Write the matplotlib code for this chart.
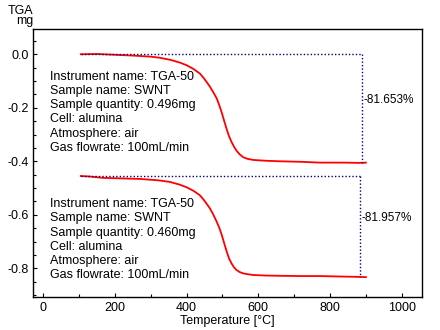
import numpy as np
import matplotlib
matplotlib.use("Agg")
import matplotlib.pyplot as plt
from matplotlib.ticker import MultipleLocator

plt.rcParams['font.family'] = ['Liberation Sans', 'DejaVu Sans']

# TGA run 1 (sample 0.496 mg)
temp1 = [105, 150, 200, 251, 300, 325, 355, 381, 400, 418, 437, 446, 455, 465, 474, 484, 491,
         498, 505, 512, 518, 525, 532, 539, 548, 558, 570, 586, 620, 660, 720, 772, 840, 880, 900]
mass1 = [0.0, 0.001, -0.002, -0.005, -0.009, -0.013, -0.021, -0.031, -0.041, -0.054, -0.072,
         -0.086, -0.102, -0.121, -0.141, -0.165, -0.19, -0.218, -0.25, -0.281, -0.305, -0.327,
         -0.345, -0.360, -0.374, -0.385, -0.391, -0.395, -0.398, -0.400, -0.402, -0.405, -0.405,
         -0.406, -0.405]

# TGA run 2 (sample 0.460 mg)
temp2 = [105, 130, 167, 220, 270, 320, 353, 380, 400, 420, 437, 446, 455, 465, 474, 484, 491,
         498, 505, 512, 518, 525, 532, 539, 548, 558, 570, 586, 620, 660, 720, 772, 840, 880, 900]
mass2 = [-0.455, -0.457, -0.462, -0.464, -0.466, -0.471, -0.477, -0.487, -0.497, -0.511, -0.527,
         -0.541, -0.557, -0.576, -0.598, -0.626, -0.648, -0.675, -0.707, -0.738, -0.762, -0.781,
         -0.796, -0.806, -0.814, -0.819, -0.822, -0.825, -0.827, -0.828, -0.829, -0.829, -0.831,
         -0.832, -0.833]

# step analysis: start level, end level, marker temperature
step_temp = [888, 884]
step_start = [0.0, -0.455]
step_end = [-0.405, -0.832]
step_pct = ["-81.653%", "-81.957%"]

info1 = ["Instrument name: TGA-50", "Sample name: SWNT", "Sample quantity: 0.496mg",
         "Cell: alumina", "Atmosphere: air", "Gas flowrate: 100mL/min"]
info2 = ["Instrument name: TGA-50", "Sample name: SWNT", "Sample quantity: 0.460mg",
         "Cell: alumina", "Atmosphere: air", "Gas flowrate: 100mL/min"]

fig = plt.figure(figsize=(4.4, 3.3), dpi=100)
ax = fig.add_axes([0.076, 0.101, 0.882, 0.810])

for t, m in [(temp1, mass1), (temp2, mass2)]:
    ax.plot(t, m, color='red', lw=1.3)

for i in range(2):
    t0 = temp1[0] if i == 0 else temp2[0]
    ax.plot([t0, step_temp[i]], [step_start[i], step_start[i]], color='#000080',
            lw=1.0, ls=(0, (1, 1.5)))
    ax.plot([step_temp[i], step_temp[i]], [step_start[i], step_end[i]], color='#000080',
            lw=1.0, ls=(0, (1, 1.5)))
    ax.text(step_temp[i] + 4, (step_start[i] + step_end[i]) / 2 + 0.03, step_pct[i],
            fontsize=8.5, va='center', ha='left')

ax.text(18, -0.061, "\n".join(info1), fontsize=9, va='top', ha='left', linespacing=1.25)
ax.text(18, -0.538, "\n".join(info2), fontsize=9, va='top', ha='left', linespacing=1.25)

ax.set_xlim(-27, 1055)
ax.set_ylim(-0.906, 0.093)
ax.xaxis.set_major_locator(MultipleLocator(200))
ax.xaxis.set_minor_locator(MultipleLocator(100))
ax.yaxis.set_major_locator(MultipleLocator(0.2))
ax.yaxis.set_minor_locator(MultipleLocator(0.05))
ax.yaxis.set_major_formatter(plt.FuncFormatter(lambda v, p: "%.1f" % v))
ax.tick_params(which='both', direction='in', labelsize=9, width=0.8)
ax.tick_params(which='major', length=3)
ax.tick_params(which='minor', length=2)
for s in ax.spines.values():
    s.set_linewidth(1.0)

ax.set_xlabel("Temperature [°C]", fontsize=9, labelpad=1)
fig.text(0.075, 0.950, "TGA", fontsize=9, ha='right', va='bottom')
fig.text(0.075, 0.917, "mg", fontsize=9, ha='right', va='bottom')

fig.savefig("out.png", dpi=100)
